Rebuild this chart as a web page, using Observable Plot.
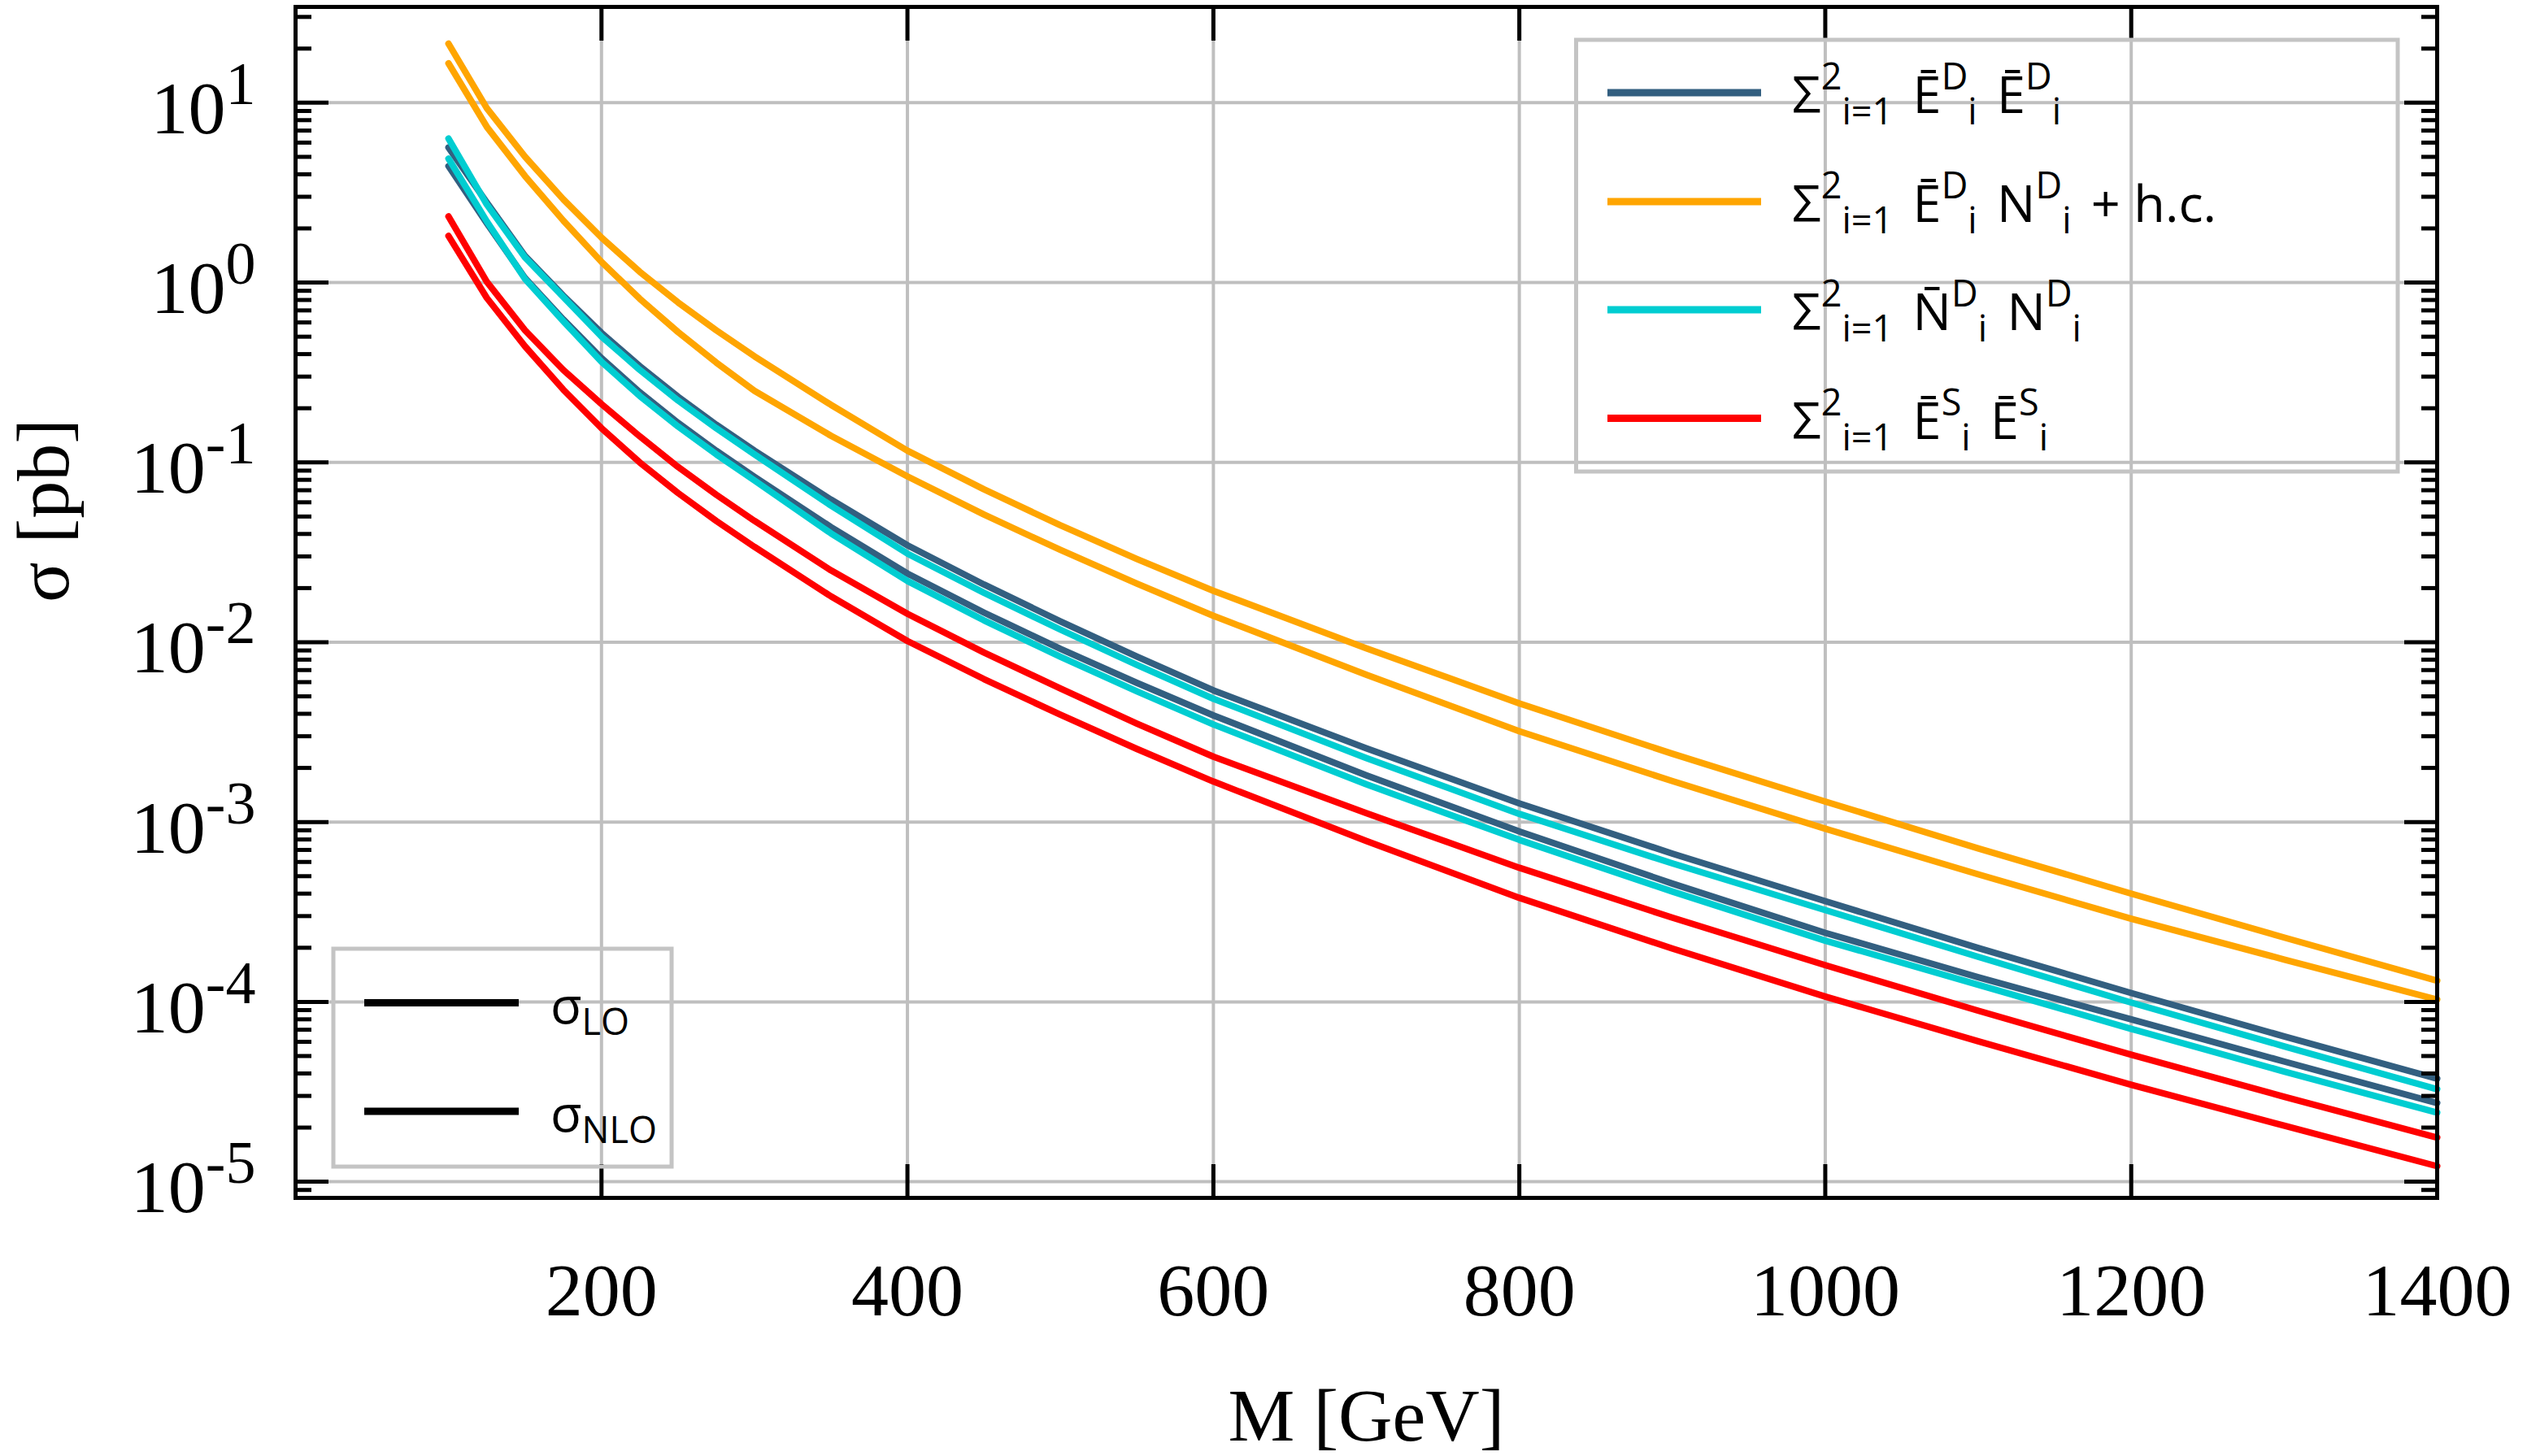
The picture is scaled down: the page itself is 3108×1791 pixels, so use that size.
<!DOCTYPE html>
<html>
<head>
<meta charset="utf-8">
<script src="https://cdn.jsdelivr.net/npm/d3@7"></script>
<script src="https://cdn.jsdelivr.net/npm/@observablehq/plot@0.6"></script>
<style>
  html, body { margin: 0; padding: 0; background: #fff; overflow: hidden; }
  #chart svg { display: block; }
</style>
</head>
<body>
<div id="chart"></div>
<script>
// ---------- data ----------
const masses = [100, 125, 150, 175, 200, 225, 250, 275, 300, 350, 400, 450, 500, 550, 600, 700, 800, 900, 1000, 1100, 1200, 1300, 1400];

// Σ Ē^D Ē^D (dark blue)
const eDeD_NLO = [5.64, 2.79, 1.406, 0.847, 0.525, 0.343, 0.232, 0.162, 0.1161, 0.0621, 0.0346, 0.02094, 0.01306, 0.00832, 0.0054, 0.00257, 0.00127, 0.000668, 0.000363, 0.0001995, 0.000112, 0.0000643, 0.0000374];
const eDeD_LO  = [4.44, 2.14, 1.059, 0.624, 0.38, 0.2455, 0.166, 0.1161, 0.0832, 0.0437, 0.0241, 0.01462, 0.00918, 0.00594, 0.00392, 0.00182, 0.000887, 0.000455, 0.000242, 0.000137, 0.00008, 0.0000466, 0.0000274];
// Σ Ē^D N^D + h.c. (orange)
const eDnD_NLO = [21.3, 9.33, 5.01, 2.904, 1.778, 1.148, 0.776, 0.543, 0.389, 0.209, 0.1161, 0.0708, 0.0447, 0.02904, 0.01932, 0.00925, 0.00457, 0.0024, 0.0013, 0.000714, 0.0004, 0.000228, 0.000131];
const eDnD_LO  = [16.56, 7.35, 3.91, 2.213, 1.303, 0.813, 0.531, 0.359, 0.25, 0.1406, 0.0836, 0.0513, 0.0326, 0.0212, 0.01403, 0.00659, 0.0032, 0.00169, 0.000918, 0.000512, 0.00029, 0.000172, 0.000103];
// Σ N̄^D N^D (cyan)
const nDnD_NLO = [6.32, 2.72, 1.38, 0.832, 0.501, 0.327, 0.221, 0.155, 0.1109, 0.0575, 0.0311, 0.01884, 0.01175, 0.00748, 0.00485, 0.00227, 0.00111, 0.000589, 0.000324, 0.000178, 0.0000991, 0.0000566, 0.0000327];
const nDnD_LO  = [4.89, 2.19, 1.047, 0.61, 0.363, 0.234, 0.1585, 0.1109, 0.0794, 0.0403, 0.0219, 0.01324, 0.0083, 0.00533, 0.00349, 0.00162, 0.000796, 0.000411, 0.000219, 0.0001245, 0.0000708, 0.000041, 0.0000242];
// Σ Ē^S Ē^S (red)
const eSeS_NLO = [2.33, 1.012, 0.543, 0.327, 0.211, 0.1396, 0.0944, 0.0661, 0.0473, 0.0251, 0.01439, 0.00877, 0.00553, 0.00353, 0.00231, 0.00112, 0.000557, 0.000294, 0.00016, 0.0000893, 0.0000508, 0.0000297, 0.0000176];
const eSeS_LO  = [1.816, 0.822, 0.442, 0.254, 0.155, 0.1, 0.0676, 0.0473, 0.0339, 0.018, 0.01016, 0.00624, 0.00395, 0.00255, 0.00168, 0.000785, 0.000379, 0.000198, 0.000107, 0.0000604, 0.0000346, 0.0000205, 0.0000122];

const seriesNames  = ["eDeD", "eDnD", "nDnD", "eSeS"];
const seriesColors = ["#335f80", "#ffa500", "#00cdd1", "#ff0000"];
const seriesNLO = [eDeD_NLO, eDnD_NLO, nDnD_NLO, eSeS_NLO];
const seriesLO  = [eDeD_LO, eDnD_LO, nDnD_LO, eSeS_LO];

// legend labels as rich-text tokens [text, "sup"|"sub"|undefined]
const legendLabels = [
  [["Σ"], ["2", "sup"], ["i=1", "sub"], [" Ē"], ["D", "sup"], ["i", "sub"], [" Ē"], ["D", "sup"], ["i", "sub"]],
  [["Σ"], ["2", "sup"], ["i=1", "sub"], [" Ē"], ["D", "sup"], ["i", "sub"], [" N"], ["D", "sup"], ["i", "sub"], [" + h.c."]],
  [["Σ"], ["2", "sup"], ["i=1", "sub"], [" N\u0304"], ["D", "sup"], ["i", "sub"], [" N"], ["D", "sup"], ["i", "sub"]],
  [["Σ"], ["2", "sup"], ["i=1", "sub"], [" Ē"], ["S", "sup"], ["i", "sub"], [" Ē"], ["S", "sup"], ["i", "sub"]]
];
const orderLabels = [
  [["σ"], ["LO", "sub"]],
  [["σ"], ["NLO", "sub"]]
];

// ticks
const xTicks = [200, 400, 600, 800, 1000, 1200, 1400];
const yMajor = [1e-5, 1e-4, 1e-3, 1e-2, 1e-1, 1e0, 1e1];
const yDomain = [8.13e-6, 34.1];
const yMinor = [-6, -5, -4, -3, -2, -1, 0, 1]
  .flatMap(k => [2, 3, 4, 5, 6, 7, 8, 9].map(m => +(m + "e" + k)))
  .filter(v => v >= yDomain[0] && v <= yDomain[1]);

// ---------- build tidy table ----------
const rows = [];
seriesNames.forEach((name, s) => {
  [["NLO", seriesNLO[s]], ["LO", seriesLO[s]]].forEach(([order, vals]) => {
    masses.forEach((m, i) => rows.push({series: name, order, key: name + "-" + order, M: m, sigma: vals[i]}));
  });
});

const gridStyle = {stroke: "#bfbfbf", strokeOpacity: 1, strokeWidth: 4};
const tickOnly = {stroke: "black", strokeOpacity: 1, strokeWidth: 5, fill: "none", label: null};

const chart = Plot.plot({
  width: 3108,
  height: 1791,
  marginLeft: 363,
  marginRight: 111,
  marginTop: 8,
  marginBottom: 318,
  style: {fontFamily: "'Liberation Serif', 'Times New Roman', serif", fontSize: "92px", color: "black", background: "white"},
  x: {domain: [0, 1400]},
  y: {type: "log", domain: yDomain},
  color: {domain: seriesNames, range: seriesColors},
  marks: [
    Plot.gridX(xTicks, gridStyle),
    Plot.gridY(yMajor, gridStyle),
    Plot.line(rows, {x: "M", y: "sigma", z: "key", stroke: "series", strokeWidth: 8, curve: "linear", strokeLinejoin: "round"}),
    Plot.frame({stroke: "black", strokeWidth: 5}),
    Plot.axisX(xTicks, {anchor: "bottom", tickSize: -41, ...tickOnly}),
    Plot.axisX(xTicks, {anchor: "top", tickSize: -41, ...tickOnly}),
    Plot.axisY(yMajor, {anchor: "left", tickSize: -41, ...tickOnly}),
    Plot.axisY(yMinor, {anchor: "left", tickSize: -20, ...tickOnly}),
    Plot.axisY(yMajor, {anchor: "right", tickSize: -41, ...tickOnly}),
    Plot.axisY(yMinor, {anchor: "right", tickSize: -20, ...tickOnly}),
    Plot.axisX(xTicks, {anchor: "bottom", tickSize: 0, tickPadding: 79, label: null, fontSize: 92, tickFormat: d => String(d)}),
    Plot.axisY(yMajor, {anchor: "left", tickSize: 0, tickPadding: 49, dy: 8, label: null, fontSize: 92,
      tickFormat: d => "10^" + Math.round(Math.log10(d))}),
    Plot.text(["M [GeV]"], {frameAnchor: "bottom", dy: 298, lineAnchor: "bottom", fontSize: 92}),
    Plot.text(["σ [pb]"], {frameAnchor: "left", dx: -280, rotate: -90, lineAnchor: "bottom", fontSize: 92})
  ]
});
document.getElementById("chart").appendChild(chart);

const svg = d3.select(chart);

// superscript exponents on y tick labels
svg.selectAll('g[aria-label="y-axis tick label"] text').each(function () {
  const s = this.textContent;
  const idx = s.indexOf("^");
  if (idx < 0) return;
  const base = s.slice(0, idx), exp = s.slice(idx + 1);
  const t = d3.select(this);
  t.text(null);
  t.append("tspan").text(base);
  t.append("tspan").attr("font-size", 74).attr("dy", -36).text(exp);
});

// rich-text helper
function richText(sel, tokens, {base, small, up, down, gap}) {
  let cur = 0;
  tokens.forEach(([txt, kind]) => {
    const target = kind === "sup" ? -up : kind === "sub" ? down : 0;
    const ts = sel.append("tspan").attr("font-size", kind ? small : base).text(txt);
    if (target - cur !== 0) ts.attr("dy", target - cur);
    if (txt.startsWith(" ")) ts.attr("dx", gap);
    cur = target;
  });
}

const sansFont = "'Open Sans', 'Noto Sans', sans-serif";
const legendText = {base: 63, small: 45, up: 29, down: 14, gap: 8};

// series legend (top right)
const lg1 = svg.append("g").attr("font-family", sansFont).attr("text-anchor", "start").style("white-space", "pre");
lg1.append("rect").attr("x", 1938.5).attr("y", 49).attr("width", 1010.5).attr("height", 531)
  .attr("fill", "none").attr("stroke", "#c4c4c4").attr("stroke-width", 5);
const rowY1 = [114, 248, 381, 514.5];
legendLabels.forEach((tokens, i) => {
  lg1.append("line").attr("x1", 1977).attr("x2", 2166).attr("y1", rowY1[i]).attr("y2", rowY1[i])
    .attr("stroke", seriesColors[i]).attr("stroke-width", 9);
  const t = lg1.append("text").attr("x", 2204).attr("y", rowY1[i] + 25).attr("fill", "black");
  richText(t, tokens, legendText);
});

// order legend (bottom left)
const lg2 = svg.append("g").attr("font-family", sansFont).attr("text-anchor", "start").style("white-space", "pre");
lg2.append("rect").attr("x", 410).attr("y", 1167).attr("width", 416).attr("height", 268)
  .attr("fill", "none").attr("stroke", "#c4c4c4").attr("stroke-width", 5);
const rowY2 = [1233.5, 1367];
orderLabels.forEach((tokens, i) => {
  lg2.append("line").attr("x1", 448).attr("x2", 638).attr("y1", rowY2[i]).attr("y2", rowY2[i])
    .attr("stroke", "black").attr("stroke-width", 9);
  const t = lg2.append("text").attr("x", 677).attr("y", rowY2[i] + 25).attr("fill", "black");
  richText(t, tokens, legendText);
});
</script>
</body>
</html>
